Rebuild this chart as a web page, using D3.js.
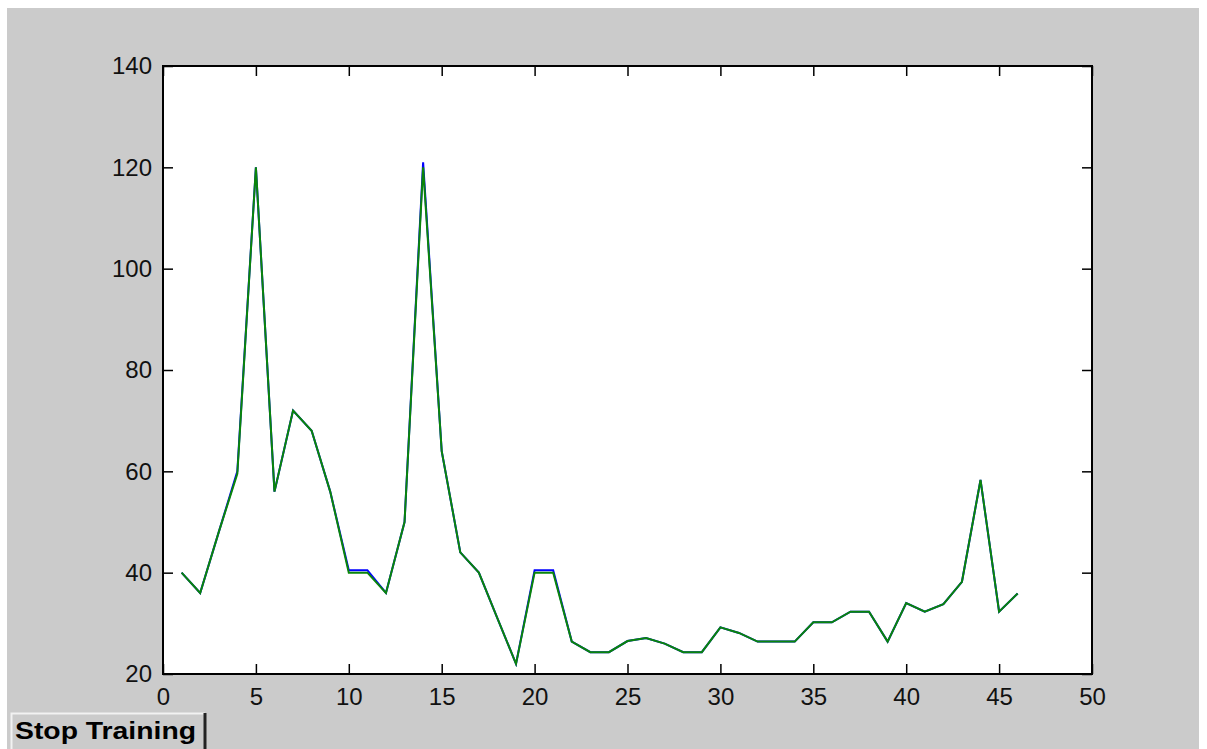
<!DOCTYPE html>
<html>
<head>
<meta charset="utf-8">
<script src="https://cdn.jsdelivr.net/npm/d3@7"></script>
<style>
  body { margin: 0; background: #fff; }
  svg { display: block; }
</style>
</head>
<body>
<script>
// sample index 1..46
var epochs = d3.range(1, 47);

// target series (blue)
var target = [40, 36, 48, 60, 120, 56, 72, 68, 56, 40.5,
              40.5, 36, 50, 121, 64, 44, 40, 31, 22, 40.5,
              40.5, 26.4, 24.3, 24.3, 26.5, 27.1, 26, 24.3, 24.3, 29.2,
              28.1, 26.4, 26.4, 26.4, 30.2, 30.2, 32.3, 32.3, 26.4, 34,
              32.3, 33.8, 38.2, 58.3, 32.3, 35.9];

// network output (green)
var output = [40, 36, 48, 59.5, 120, 56, 72, 68, 56, 40,
              40, 36, 50, 120, 64, 44, 40, 31, 22, 40,
              40, 26.4, 24.3, 24.3, 26.5, 27.1, 26, 24.3, 24.3, 29.2,
              28.1, 26.4, 26.4, 26.4, 30.2, 30.2, 32.3, 32.3, 26.4, 34,
              32.3, 33.8, 38.2, 58.3, 32.3, 35.9];

var xTicks = [0, 5, 10, 15, 20, 25, 30, 35, 40, 45, 50];
var yTicks = [20, 40, 60, 80, 100, 120, 140];

var width = 1207, height = 749;
var margin = {top: 66, right: 115, bottom: 75, left: 163};

var svg = d3.select("body").append("svg")
    .attr("width", width)
    .attr("height", height);

// figure background
svg.append("rect")
    .attr("x", 7).attr("y", 8)
    .attr("width", 1192).attr("height", height - 8)
    .attr("fill", "#cbcbcb");

var x = d3.scaleLinear().domain([0, 50]).range([margin.left, width - margin.right]);
var y = d3.scaleLinear().domain([20, 140]).range([height - margin.bottom, margin.top]);

// axes box
svg.append("rect")
    .attr("x", x(0)).attr("y", y(140))
    .attr("width", x(50) - x(0)).attr("height", y(20) - y(140))
    .attr("fill", "#fff");

var font = "'Liberation Sans', Arial, sans-serif";

function styleAxis(g, labels) {
  g.select(".domain").remove();
  g.selectAll(".tick line").attr("stroke", "#000").attr("stroke-width", 1.5);
  g.selectAll(".tick text")
      .attr("fill", "#111")
      .style("font-family", font)
      .style("font-size", "24px");
  if (!labels) g.selectAll(".tick text").remove();
}

svg.append("g")
    .attr("transform", "translate(0," + y(20) + ")")
    .call(d3.axisBottom(x).tickValues(xTicks).tickSizeInner(-10).tickSizeOuter(0).tickPadding(8))
    .call(styleAxis, true)
    .selectAll(".tick text").attr("dy", "0.95em");

svg.append("g")
    .attr("transform", "translate(0," + y(140) + ")")
    .call(d3.axisTop(x).tickValues(xTicks).tickSizeInner(-10).tickSizeOuter(0))
    .call(styleAxis, false);

svg.append("g")
    .attr("transform", "translate(" + x(0) + ",0)")
    .call(d3.axisLeft(y).tickValues(yTicks).tickSizeInner(-10).tickSizeOuter(0).tickPadding(11))
    .call(styleAxis, true);

svg.append("g")
    .attr("transform", "translate(" + x(50) + ",0)")
    .call(d3.axisRight(y).tickValues(yTicks).tickSizeInner(-10).tickSizeOuter(0))
    .call(styleAxis, false);

svg.append("rect")
    .attr("x", x(0)).attr("y", y(140))
    .attr("width", x(50) - x(0)).attr("height", y(20) - y(140))
    .attr("fill", "none")
    .attr("stroke", "#000")
    .attr("stroke-width", 2);

var line = d3.line()
    .x(function(d) { return x(d[0]); })
    .y(function(d) { return y(d[1]); });

svg.append("path")
    .datum(epochs.map(function(e, i) { return [e, target[i]]; }))
    .attr("d", line)
    .attr("fill", "none")
    .attr("stroke", "#0000ff")
    .attr("stroke-width", 2);

svg.append("path")
    .datum(epochs.map(function(e, i) { return [e, output[i]]; }))
    .attr("d", line)
    .attr("fill", "none")
    .attr("stroke", "#0a850a")
    .attr("stroke-width", 2);

// Stop Training button
var btn = svg.append("g").attr("transform", "translate(11,713)");
btn.append("rect")
    .attr("width", 195).attr("height", 36)
    .attr("fill", "#cbcbcb");
btn.append("path")
    .attr("d", "M0.5,36 V0.5 H194")
    .attr("fill", "none").attr("stroke", "#f2f2f2").attr("stroke-width", 2);
btn.append("path")
    .attr("d", "M194,0 V36")
    .attr("fill", "none").attr("stroke", "#222").attr("stroke-width", 3);
btn.append("text")
    .attr("x", 4).attr("y", 26)
    .attr("textLength", 181)
    .attr("lengthAdjust", "spacingAndGlyphs")
    .style("font-family", font)
    .style("font-size", "24px")
    .style("font-weight", "bold")
    .attr("fill", "#000")
    .text("Stop Training");
</script>
</body>
</html>
